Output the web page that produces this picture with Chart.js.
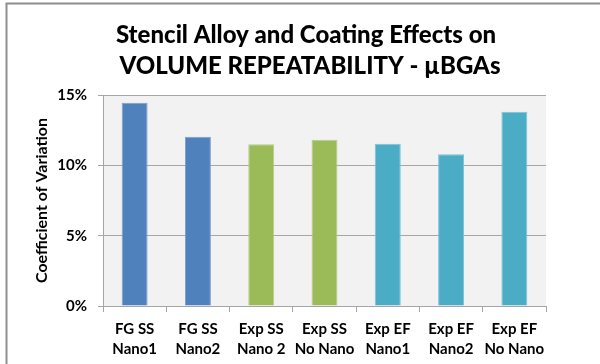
<!DOCTYPE html>
<html>
<head>
<meta charset="utf-8">
<script src="https://cdn.jsdelivr.net/npm/chart.js@4"></script>
<style>
  html, body { margin: 0; padding: 0; background: #fff; }
  #wrap { width: 600px; height: 364px; position: relative; }
</style>
</head>
<body>
<div id="wrap"><canvas id="chart" width="600" height="364"></canvas></div>
<script>
// Stencil / coating combinations (two-line axis labels)
const categories = [
  ["FG SS", "Nano1"],
  ["FG SS", "Nano2"],
  ["Exp SS", "Nano 2"],
  ["Exp SS", "No Nano"],
  ["Exp EF", "Nano1"],
  ["Exp EF", "Nano2"],
  ["Exp EF", "No Nano"]
];
// Coefficient of variation, percent
const covValues = [14.45, 12.03, 11.49, 11.82, 11.54, 10.78, 13.81];
// Value axis ticks, percent
const yTicks = [0, 5, 10, 15];

const titleLines = ["Stencil Alloy and Coating Effects on", "VOLUME REPEATABILITY - \u00B5BGAs"];
const yAxisTitle = "Coefficient of Variation";

// Fill colour by stencil group: FG SS, Exp SS, Exp EF
const groupFill = ["#4F81BD", "#4F81BD", "#9BBB59", "#9BBB59", "#4BACC6", "#4BACC6", "#4BACC6"];
const groupEdge = ["#7A9FCF", "#7A9FCF", "#B5CE88", "#B5CE88", "#7CC3D6", "#7CC3D6", "#7CC3D6"];

const FONT = "Lato, 'Open Sans', 'DejaVu Sans', sans-serif";

// Grey plot background plus outer frame
const backdrop = {
  id: "backdrop",
  beforeDraw(chart) {
    const { ctx, chartArea: a } = chart;
    ctx.save();
    ctx.fillStyle = "#F2F2F2";
    ctx.fillRect(a.left, a.top, a.right - a.left, a.bottom - a.top);
    ctx.strokeStyle = "#8E8E8E";
    ctx.lineWidth = 2;
    ctx.beginPath();
    ctx.moveTo(6.5, 364);
    ctx.lineTo(6.5, 3.5);
    ctx.lineTo(600, 3.5);
    ctx.stroke();
    ctx.restore();
  }
};

// Two-line chart heading
const heading = {
  id: "heading",
  afterDraw(chart) {
    const { ctx } = chart;
    ctx.save();
    ctx.fillStyle = "#000";
    ctx.font = "900 24px " + FONT;
    ctx.textAlign = "center";
    ctx.textBaseline = "alphabetic";
    ctx.fillText(titleLines[0], 306, 43);
    ctx.fillText(titleLines[1], 310, 73.5);
    ctx.restore();
  }
};

new Chart(document.getElementById("chart"), {
  type: "bar",
  data: {
    labels: categories,
    datasets: [{
      data: covValues,
      backgroundColor: groupFill,
      borderColor: groupEdge,
      borderWidth: 1,
      categoryPercentage: 1,
      barPercentage: 0.41
    }]
  },
  options: {
    responsive: false,
    animation: false,
    devicePixelRatio: 1,
    layout: { padding: { left: 0, right: 54, top: 95, bottom: 0 } },
    plugins: {
      legend: { display: false },
      tooltip: { enabled: false },
      title: { display: false }
    },
    scales: {
      x: {
        grid: {
          display: true,
          drawOnChartArea: false,
          offset: true,
          tickLength: 6,
          color: "#A6A6A6"
        },
        border: { display: true, color: "#A6A6A6" },
        ticks: {
          color: "#000",
          font: { family: FONT, size: 15, weight: "bold", lineHeight: 1.333 },
          padding: 7,
          maxRotation: 0,
          autoSkip: false
        },
        afterFit(scale) { scale.height = 58; }
      },
      y: {
        min: 0,
        max: 15,
        afterBuildTicks(scale) { scale.ticks = yTicks.map(v => ({ value: v })); },
        ticks: {
          color: "#000",
          font: { family: FONT, size: 15, weight: "bold" },
          padding: 11,
          callback: v => v + "%"
        },
        grid: { color: "#A6A6A6", tickLength: 5 },
        border: { display: true, color: "#A6A6A6" },
        title: {
          display: true,
          text: yAxisTitle,
          color: "#000",
          font: { family: FONT, size: 16, weight: "bold" },
          padding: { top: 32, bottom: 0 }
        },
        afterFit(scale) { scale.width = 103; }
      }
    }
  },
  plugins: [backdrop, heading]
});
</script>
</body>
</html>
